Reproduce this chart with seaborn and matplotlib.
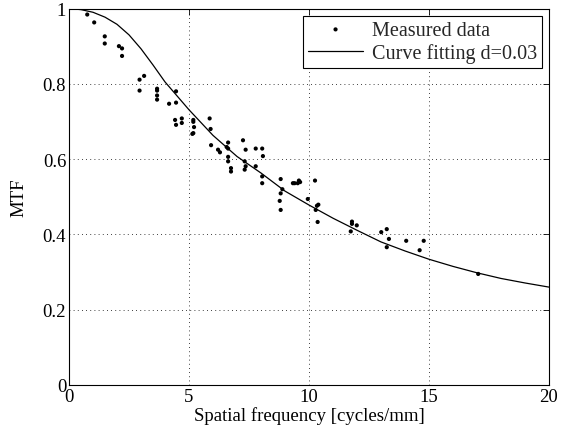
import matplotlib
matplotlib.use("Agg")
import matplotlib.pyplot as plt
import seaborn as sns
import pandas as pd

# Measured data (spatial frequency, MTF)
meas_x = [0.76, 1.05, 1.49, 1.49, 2.08, 2.21, 2.21, 2.94, 3.13, 2.94,
          3.67, 3.67, 3.67, 3.67, 4.17, 4.46, 4.46, 4.42, 4.46, 4.70, 4.70,
          5.18, 5.18, 5.21, 5.18, 5.14, 5.86, 5.90, 5.92, 6.21, 6.29,
          6.63, 6.57, 6.63, 6.63, 6.63, 6.75, 6.75,
          7.25, 7.36, 7.32, 7.36, 7.32, 7.78, 7.78, 8.05, 8.08, 8.05, 8.05,
          8.82, 8.89, 8.82, 8.78, 8.82, 9.33, 9.40, 9.53, 9.58, 9.63, 9.95,
          10.25, 10.33, 10.39, 10.28, 10.36,
          11.74, 11.79, 11.79, 11.99, 13.01, 13.24, 13.33, 13.24,
          14.05, 14.78, 14.61, 17.05]
meas_y = [0.984, 0.963, 0.926, 0.907, 0.900, 0.894, 0.874, 0.811, 0.821, 0.782,
          0.787, 0.782, 0.769, 0.758, 0.747, 0.780, 0.750, 0.704, 0.691, 0.708, 0.696,
          0.704, 0.699, 0.685, 0.669, 0.667, 0.708, 0.680, 0.637, 0.625, 0.618,
          0.644, 0.632, 0.628, 0.606, 0.594, 0.576, 0.567,
          0.650, 0.625, 0.594, 0.581, 0.572, 0.628, 0.581, 0.628, 0.608, 0.554, 0.536,
          0.547, 0.520, 0.509, 0.489, 0.465, 0.536, 0.536, 0.536, 0.543, 0.539, 0.494,
          0.543, 0.476, 0.479, 0.465, 0.433,
          0.408, 0.434, 0.428, 0.424, 0.406, 0.414, 0.388, 0.366,
          0.383, 0.383, 0.358, 0.295]

# Fitted curve
fit_x = [0, 0.5, 1, 1.5, 2, 2.5, 3, 3.5, 4, 5, 6, 7, 8, 9, 10, 11, 12, 13, 14,
         15, 16, 17, 18, 19, 20]
fit_y = [1.000, 0.997, 0.990, 0.977, 0.958, 0.930, 0.893, 0.850, 0.805, 0.731,
         0.663, 0.607, 0.563, 0.515, 0.478, 0.443, 0.411, 0.380, 0.356,
         0.334, 0.315, 0.298, 0.283, 0.271, 0.260]

xticks = [0, 5, 10, 15, 20]
yticks = [0, 0.2, 0.4, 0.6, 0.8, 1]
ytick_labels = ["0", "0.2", "0.4", "0.6", "0.8", "1"]

sns.set_theme(style="white")
plt.rcParams['font.family'] = ['Liberation Serif', 'DejaVu Serif']
plt.rcParams['mathtext.fontset'] = 'stix'

fig = plt.figure(figsize=(5.66, 4.39), dpi=100)
ax = fig.add_axes([69/566, 1-386/439, 480/566, 376.5/439])

df_meas = pd.DataFrame({"x": meas_x, "y": meas_y})
df_fit = pd.DataFrame({"x": fit_x, "y": fit_y})

sns.scatterplot(data=df_meas, x="x", y="y", ax=ax, color="black", s=9,
                marker="o", edgecolor="none", label="Measured data", zorder=3)
sns.lineplot(data=df_fit, x="x", y="y", ax=ax, color="black", linewidth=0.9,
             label="Curve fitting d=0.03", zorder=2)

ax.set_xlim(0, 20)
ax.set_ylim(0, 1)
ax.set_xticks(xticks)
ax.set_xticklabels([str(t) for t in xticks])
ax.set_yticks(yticks)
ax.set_yticklabels(ytick_labels)
ax.tick_params(direction="in", length=4, width=0.6, top=True, right=True,
               labelsize=13.5, colors="black", pad=2)
for s in ax.spines.values():
    s.set_color("black")
    s.set_linewidth(0.8)
    s.set_visible(True)

ax.grid(True, color="black", linestyle=(0, (1, 4)), linewidth=0.6)
ax.set_axisbelow(True)

ax.set_xlabel("Spatial frequency [cycles/mm]", fontsize=13.5, color="black", labelpad=1)
ax.set_ylabel("MTF", fontsize=13.5, color="black", labelpad=11)

leg = ax.legend(loc="upper right", fontsize=14.5, frameon=True, fancybox=False,
                borderpad=0.25, handlelength=2.7, handletextpad=0.45,
                labelspacing=0.15, borderaxespad=0.35, markerscale=1.0)
leg.get_frame().set_edgecolor("black")
leg.get_frame().set_linewidth(0.8)
leg.get_frame().set_alpha(1)

fig.savefig("out.png", dpi=100)
